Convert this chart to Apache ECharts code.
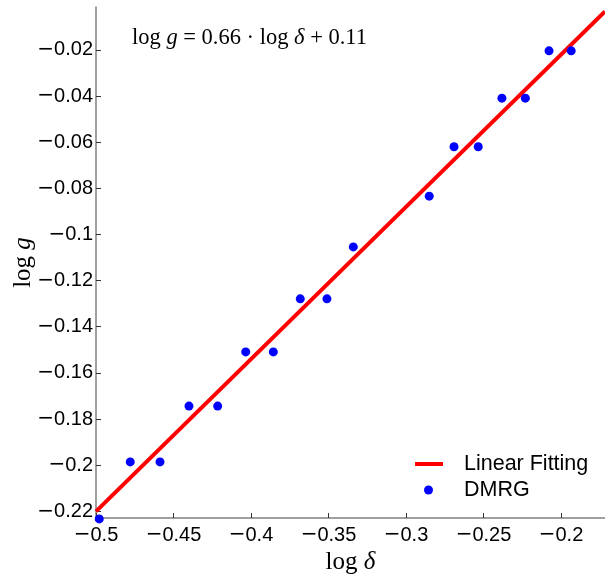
<!DOCTYPE html>
<html>
<head>
<meta charset="utf-8">
<script src="https://cdn.jsdelivr.net/npm/echarts@6/dist/echarts.min.js"></script>
<style>
html,body{margin:0;padding:0;background:#fff;}
#chart{width:605px;height:574px;}
</style>
</head>
<body>
<div id="chart"></div>
<script>
// DMRG data (log delta, log g)
const dmrgX = [-0.4979, -0.4779, -0.4587, -0.4400, -0.4215, -0.4034, -0.3856, -0.3682, -0.3510, -0.3340, -0.2850, -0.2690, -0.2534, -0.2381, -0.2230, -0.2077, -0.1934];
const dmrgY = [-0.2233, -0.1986, -0.1986, -0.1744, -0.1744, -0.1509, -0.1509, -0.1279, -0.1279, -0.1054, -0.0834, -0.0620, -0.0620, -0.0409, -0.0409, -0.0204, -0.0204];
// Linear fit endpoints
const fitX = [-0.5, -0.1716];
const fitY = [-0.22, -0.0033];
// Tick values
const xTicks = [-0.5, -0.45, -0.4, -0.35, -0.3, -0.25, -0.2];
const yTicks = [-0.22, -0.2, -0.18, -0.16, -0.14, -0.12, -0.1, -0.08, -0.06, -0.04, -0.02];

const fmt = v => {
  const s = String(Number(v.toFixed(3)));
  return s.charAt(0) === '-' ? '{m|\u2212}' + s.slice(1) : s;
};
const serif = '"Liberation Serif", "DejaVu Serif", serif';
const sans = '"Liberation Sans", Arial, sans-serif';
const minusRich = {m: {fontFamily: '"DejaVu Sans"', fontSize: 20, color: '#000'}};

const chart = echarts.init(document.getElementById('chart'), null, {renderer: 'canvas'});
const option = {
  animation: false,
  backgroundColor: '#fff',
  grid: {left: 96, right: 0, top: 7, bottom: 56, containLabel: false, outerBoundsMode: 'none'},
  xAxis: {
    type: 'value', min: -0.5, max: -0.1716,
    splitLine: {show: false},
    axisLine: {show: true, onZero: false, lineStyle: {color: '#808080', width: 1.5}},
    axisTick: {show: true, inside: true, length: 5, customValues: xTicks, lineStyle: {color: '#333'}},
    axisLabel: {customValues: xTicks, formatter: fmt, color: '#000', fontFamily: sans, fontSize: 20, margin: 7, rich: minusRich},
    name: '{r|log }{i|\u03b4}', nameLocation: 'middle', nameGap: 26,
    nameTextStyle: {rich: {r: {fontFamily: serif, fontSize: 25, color: '#000'}, i: {fontFamily: serif, fontStyle: 'italic', fontSize: 25, color: '#000'}}}
  },
  yAxis: {
    type: 'value', min: -0.2229, max: -0.0014,
    splitLine: {show: false},
    axisLine: {show: true, onZero: false, lineStyle: {color: '#808080', width: 1.5}},
    axisTick: {show: true, inside: true, length: 5, customValues: yTicks, lineStyle: {color: '#333'}},
    axisLabel: {customValues: yTicks, formatter: fmt, color: '#000', fontFamily: sans, fontSize: 20, margin: 3, rich: minusRich},
    name: '{r|log }{i|g}', nameLocation: 'middle', nameGap: 60, nameMoveOverlap: false,
    nameTextStyle: {rich: {r: {fontFamily: serif, fontSize: 25, color: '#000'}, i: {fontFamily: serif, fontStyle: 'italic', fontSize: 25, color: '#000'}}}
  },
  legend: [
    {data: [{name: 'Linear Fitting', icon: 'rect'}], left: 415, top: 453, padding: 0, itemWidth: 28, itemHeight: 4,
     textStyle: {fontFamily: sans, fontSize: 21.5, color: '#000', padding: [0, 0, 0, 16]}},
    {data: [{name: 'DMRG', icon: 'circle'}], left: 424, top: 479, padding: 0, itemWidth: 9, itemHeight: 9,
     textStyle: {fontFamily: sans, fontSize: 21.5, color: '#000', padding: [0, 0, 0, 26]}}
  ],
  graphic: [{
    type: 'text', left: 132, top: 27,
    style: {
      text: '{a|log }{b|g}{a| = 0.66 \u00b7 log }{b|\u03b4}{a| + 0.11}',
      rich: {a: {fontFamily: serif, fontSize: 22.5, fill: '#000'}, b: {fontFamily: serif, fontStyle: 'italic', fontSize: 22.5, fill: '#000'}}
    }
  }],
  series: [
    {name: 'Linear Fitting', type: 'line', data: fitX.map((x, i) => [x, fitY[i]]), showSymbol: false, symbol: 'none',
     lineStyle: {color: '#ff0000', width: 4}, itemStyle: {color: '#ff0000'}, z: 2},
    {name: 'DMRG', type: 'scatter', data: dmrgX.map((x, i) => [x, dmrgY[i]]), symbol: 'circle', symbolSize: 9,
     itemStyle: {color: '#0000ff', opacity: 1}, clip: false, z: 3}
  ]
};
chart.setOption(option);
</script>
</body>
</html>
